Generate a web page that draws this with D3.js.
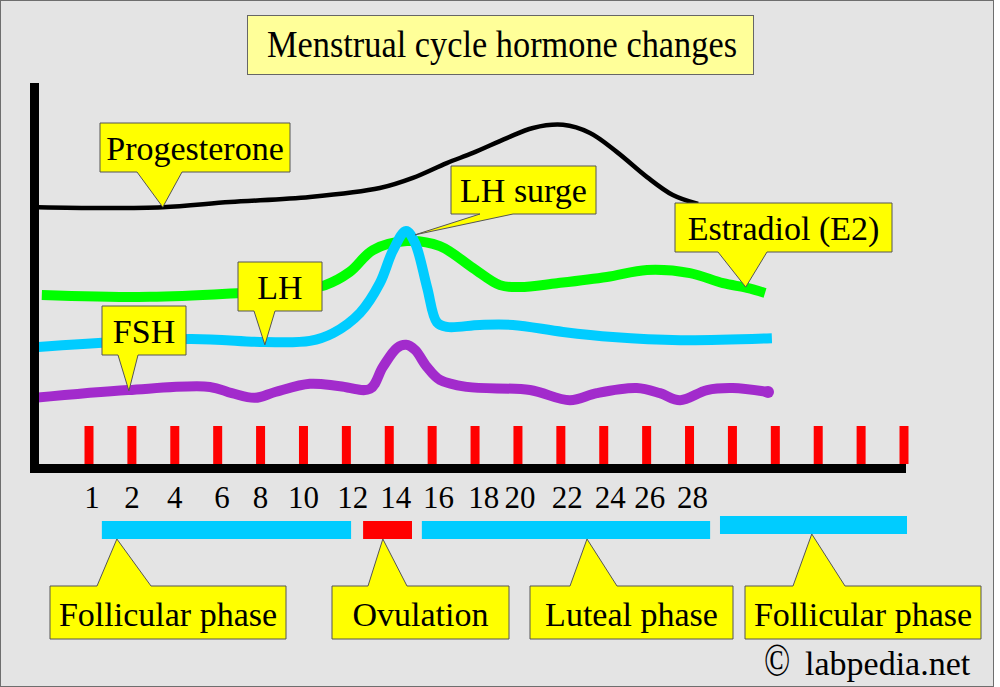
<!DOCTYPE html>
<html lang="en">
<head>
	<meta charset="utf-8">
	<title>Menstrual cycle hormone changes</title>
	<script src="https://d3js.org/d3.v7.min.js"></script>
	<style type="text/css">
		body { margin: 0; background: #ffffff; }
		svg text { font-family: "Liberation Serif", "Times New Roman", serif; fill: #000000; }
	</style>
</head>
<body>
	<div id="chart"></div>

<script type="text/javascript">
	var w = 1000;
	var h = 687;

	// x is measured in "slots": slot i = the i-th red tick on the cycle axis
	var tickSlots = d3.range(20);
	var dayLabels = ["1", "2", "4", "6", "8", "10", "12", "14", "16", "18", "20", "22", "24", "26", "28"];
	var dayLabelSlots = [0.07, 1, 2, 3.1, 4, 5, 6.15, 7.15, 8.15, 9.2, 10.05, 11.15, 12.15, 13.07, 14.07];

	// hormone levels [slot, level], arbitrary units (0 = x axis)
	var progesterone = [[-1.19, 67.4], [0.26, 67.2], [1.72, 67.4], [3.29, 68.7], [5.15, 70.0], [6.78, 72.3],
		[7.55, 74.9], [8.34, 78.7], [8.95, 81.3], [9.74, 85.1], [10.35, 87.7], [11.05, 88.5], [11.68, 86.4],
		[12.31, 81.5], [13.01, 75.1], [13.61, 70.5], [14.2, 68.2]];
	var estradiol = [[-1.10, 44.9], [1.42, 44.4], [3.52, 45.4], [4.92, 46.4], [5.50, 47.4], [6.08, 50.8],
		[6.62, 56.4], [7.41, 58.7], [8.18, 57.4], [8.95, 51.8], [9.58, 47.4], [10.05, 46.9], [10.91, 47.9],
		[12.07, 49.5], [13.01, 51.3], [14.01, 50.5], [14.78, 47.9], [15.34, 46.7], [15.76, 45.4]];
	var lh = [[-1.26, 31.5], [2.35, 33.6], [4.10, 32.8], [5.15, 33.1], [5.69, 35.1], [6.32, 40.3],
		[6.78, 47.9], [7.09, 56.4], [7.39, 61.3], [7.60, 58.2], [7.88, 46.9], [8.11, 37.9], [8.34, 36.7],
		[9.11, 37.2], [9.88, 37.2], [11.05, 35.4], [12.21, 34.1], [13.78, 33.3], [15.92, 33.8]];
	var fsh = [[-1.26, 18.5], [0.91, 20.5], [2.82, 21.3], [3.33, 19.7], [3.87, 18.5], [4.34, 20.0],
		[5.15, 22.1], [5.85, 21.5], [6.55, 20.8], [6.85, 26.4], [7.18, 31.3], [7.39, 32.1], [7.60, 30.8],
		[7.88, 26.4], [8.18, 23.1], [8.81, 21.3], [10.28, 20.5], [11.21, 17.9], [11.84, 19.7], [12.77, 21.0],
		[13.31, 19.7], [13.78, 17.9], [14.41, 20.5], [15.01, 21.0], [15.83, 20.0]];

	var hormoneNames = ["Progesterone", "Estradiol (E2)", "LH", "FSH"];
	var hormoneColors = ["#000000", "#00ff00", "#00ccff", "#a22bcc"];
	var hormoneWidths = [4.5, 10, 10, 10];

	// callouts on the curves: label and the point [slot, level] the pointer touches
	var curveNotes = ["Progesterone", "LH", "FSH", "LH surge", "Estradiol (E2)"];
	var curveNoteTips = [[1.72, 67.4], [4.10, 32.1], [0.93, 20.3], [7.60, 60.3], [15.31, 46.9]];

	// cycle phases along the bottom
	var phaseNames = ["Follicular phase", "Ovulation", "Luteal phase", "Follicular phase"];
	var phaseStart = [0.30, 6.39, 7.76, 14.71];
	var phaseEnd = [6.11, 7.53, 14.48, 19.07];
	var phaseNoteSlots = [0.65, 6.85, 11.61, 16.85];
	var phaseColors = ["#00ccff", "#ff0000", "#00ccff", "#00ccff"];

	// box geometry for the callouts: [x, y, width, height], pointer base [x0, x1]
	var curveNoteBoxes = [[100, 123, 190, 49], [238, 262, 84, 49], [102, 306, 84, 49], [451, 166, 145, 48], [675, 203, 217, 49]];
	var curveNoteBases = [[137, 182], [254, 275], [118, 138], [480, 513], [718, 767]];
	var phaseNoteBoxes = [[50, 586, 236, 53], [332, 586, 177, 53], [530, 586, 203, 53], [745, 586, 236, 53]];
	var phaseNoteBases = [[97, 151], [368, 407], [570, 617], [793, 845]];
	var phaseBarTop = [521, 521, 521, 516];

	var x = d3.scaleLinear().domain([0, 19]).range([89, 904]);
	var y = d3.scaleLinear().domain([0, 100]).range([470, 80]);

	var svg = d3.select("#chart")
		.append("svg")
		.attr("width", w)
		.attr("height", h);

	svg.append("rect")
		.attr("x", 0.5)
		.attr("y", 0.5)
		.attr("width", 993)
		.attr("height", 686)
		.attr("fill", "#e4e4e4")
		.attr("stroke", "#6e6e6e");

	// title
	svg.append("rect")
		.attr("x", 247.5)
		.attr("y", 15.5)
		.attr("width", 506)
		.attr("height", 59)
		.attr("fill", "#ffff99")
		.attr("stroke", "#666666");
	svg.append("text")
		.attr("x", 267)
		.attr("y", 57)
		.attr("font-size", "37px")
		.attr("textLength", 470)
		.attr("lengthAdjust", "spacingAndGlyphs")
		.text("Menstrual cycle hormone changes");

	// hormone curves
	var line = d3.line()
		.x(function(d) { return x(d[0]); })
		.y(function(d) { return y(d[1]); })
		.curve(d3.curveCatmullRom.alpha(0.5));

	var series = [progesterone, estradiol, lh, fsh];
	svg.selectAll("path.hormone")
		.data(series)
		.enter()
		.append("path")
		.attr("class", "hormone")
		.attr("d", line)
		.attr("fill", "none")
		.attr("stroke", function(d, i) { return hormoneColors[i]; })
		.attr("stroke-width", function(d, i) { return hormoneWidths[i]; })
		.attr("stroke-linejoin", "round")
		.append("title")
		.text(function(d, i) { return hormoneNames[i]; });

	var fshEnd = fsh[fsh.length - 1];
	svg.append("circle")
		.attr("cx", x(fshEnd[0]))
		.attr("cy", y(fshEnd[1]))
		.attr("r", 6)
		.attr("fill", hormoneColors[3]);

	// red ticks on the cycle axis
	svg.selectAll("rect.tick")
		.data(tickSlots)
		.enter()
		.append("rect")
		.attr("class", "tick")
		.attr("x", function(d) { return x(d) - 4.5; })
		.attr("y", 426)
		.attr("width", 9)
		.attr("height", 38)
		.attr("fill", "#ff0000");

	// axes
	svg.append("rect")
		.attr("x", 30)
		.attr("y", 83)
		.attr("width", 9)
		.attr("height", 389)
		.attr("fill", "#000000");
	svg.append("rect")
		.attr("x", 30)
		.attr("y", 464)
		.attr("width", 876)
		.attr("height", 9)
		.attr("fill", "#000000");

	svg.selectAll("text.day")
		.data(dayLabels)
		.enter()
		.append("text")
		.attr("class", "day")
		.attr("x", function(d, i) { return x(dayLabelSlots[i]); })
		.attr("y", 508)
		.attr("text-anchor", "middle")
		.attr("font-size", "31px")
		.text(function(d) { return d; });

	function pointerDown(b, base, tip) {
		var x0 = b[0], y0 = b[1], x1 = b[0] + b[2], y1 = b[1] + b[3];
		return "M" + x0 + "," + y0 + "H" + x1 + "V" + y1 + "H" + base[1] +
			"L" + tip[0] + "," + tip[1] + "L" + base[0] + "," + y1 + "H" + x0 + "Z";
	}
	function pointerUp(b, base, tip) {
		var x0 = b[0], y0 = b[1], x1 = b[0] + b[2], y1 = b[1] + b[3];
		return "M" + x0 + "," + y0 + "H" + base[0] + "L" + tip[0] + "," + tip[1] +
			"L" + base[1] + "," + y0 + "H" + x1 + "V" + y1 + "H" + x0 + "Z";
	}

	// curve callouts
	var notes = svg.selectAll("g.note")
		.data(curveNotes)
		.enter()
		.append("g")
		.attr("class", "note");
	notes.append("path")
		.attr("d", function(d, i) {
			var t = curveNoteTips[i];
			return pointerDown(curveNoteBoxes[i], curveNoteBases[i], [x(t[0]), y(t[1])]);
		})
		.attr("fill", "#ffff00")
		.attr("stroke", "#555555")
		.attr("stroke-width", 1);
	notes.append("text")
		.attr("x", function(d, i) { return curveNoteBoxes[i][0] + curveNoteBoxes[i][2] / 2; })
		.attr("y", function(d, i) { return curveNoteBoxes[i][1] + curveNoteBoxes[i][3] / 2 + 12; })
		.attr("text-anchor", "middle")
		.attr("font-size", "34px")
		.text(function(d) { return d; });

	// phase bars
	svg.selectAll("rect.phase")
		.data(phaseNames)
		.enter()
		.append("rect")
		.attr("class", "phase")
		.attr("x", function(d, i) { return x(phaseStart[i]); })
		.attr("y", function(d, i) { return phaseBarTop[i]; })
		.attr("width", function(d, i) { return x(phaseEnd[i]) - x(phaseStart[i]); })
		.attr("height", 18)
		.attr("fill", function(d, i) { return phaseColors[i]; });

	var pnotes = svg.selectAll("g.pnote")
		.data(phaseNames)
		.enter()
		.append("g")
		.attr("class", "pnote");
	pnotes.append("path")
		.attr("d", function(d, i) {
			return pointerUp(phaseNoteBoxes[i], phaseNoteBases[i], [x(phaseNoteSlots[i]), phaseBarTop[i] + 18]);
		})
		.attr("fill", "#ffff00")
		.attr("stroke", "#555555")
		.attr("stroke-width", 1);
	pnotes.append("text")
		.attr("x", function(d, i) { return phaseNoteBoxes[i][0] + phaseNoteBoxes[i][2] / 2; })
		.attr("y", function(d, i) { return phaseNoteBoxes[i][1] + phaseNoteBoxes[i][3] / 2 + 13; })
		.attr("text-anchor", "middle")
		.attr("font-size", "34px")
		.text(function(d) { return d; });

	// credit
	svg.append("text")
		.attr("transform", "translate(764,676) scale(0.75,1)")
		.attr("font-family", "'DejaVu Serif', serif")
		.attr("font-size", "46px")
		.text("\u00a9");
	svg.append("text")
		.attr("x", 805)
		.attr("y", 675)
		.attr("font-size", "34px")
		.text("labpedia.net");
</script>
</body>
</html>
